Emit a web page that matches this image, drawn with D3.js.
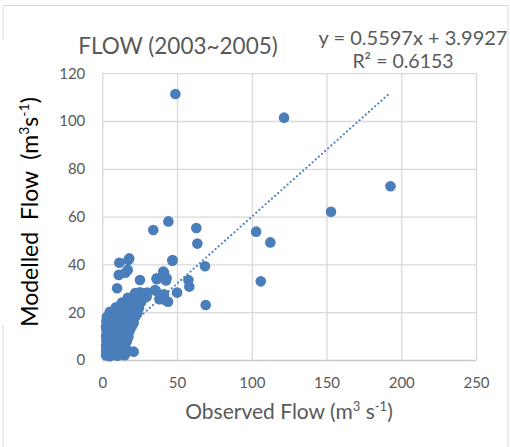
<!DOCTYPE html>
<html><head><meta charset="utf-8">
<script src="https://cdn.jsdelivr.net/npm/d3@7"></script>
<style>body{margin:0;background:#fff}svg{display:block}text{font-family:Lato,"Open Sans",sans-serif}</style>
</head><body>
<svg id="c" width="510" height="447"></svg>
<script>
const titleText = "FLOW (2003~2005)";
const xTicks = [0, 50, 100, 150, 200, 250];
const yTicks = [0, 20, 40, 60, 80, 100, 120];
const slope = 0.5597, intercept = 3.9927, r2 = "0.6153";
// [observed, modelled]
const flowPoints = [
  [2.5,2],[5,1.6],[7.5,2.3],[10,1.8],[12.5,2.4],[15,2],
  [2.6,4],[5.5,4.3],[8.5,3.8],[11.5,4.2],[14,3.6],[16.2,4.4],[21,3.5],
  [2.5,6],[4,6.3],[7,5.8],[10,6.4],[13,5.9],[15.2,6.2],
  [2.7,8.2],[5.5,7.8],[8.5,8.3],[11.5,7.7],[14.2,8.2],[16.5,7.9],
  [2.5,10],[4.2,10.3],[7,9.7],[10,10.2],[13,9.8],[15.8,10.3],[17.5,9.8],
  [2.8,12.2],[5.6,11.8],[8.6,12.4],[11.6,11.7],[14.5,12.3],[17,11.8],[18.5,12.4],
  [2.5,14],[4.3,14.3],[7.2,13.8],[10.2,14.2],[13.2,13.7],[16,14.2],[18.8,13.8],[20,14.4],
  [2.7,16.2],[5.8,15.8],[8.8,16.3],[11.8,15.7],[14.8,16.2],[17.7,15.8],[20.3,16.3],[21,15.6],
  [3,18],[4.6,18.3],[7.5,17.8],[10.5,18.2],[13.5,17.7],[16.5,18.2],[19.4,17.8],[22.3,18.3],
  [5,20.2],[7.5,20],[10.5,20.3],[13.6,19.8],[16.7,20.2],[19.8,19.7],[22.6,20.1],[23.5,19.6],
  [9,22],[12,22.3],[15,21.8],[18,22.2],[21,21.8],[23.6,22.2],[24.5,21.7],
  [13,24],[16,24.3],[19,23.8],[22,24.2],[24.6,23.8],[26,24.3],
  [17,26],[20,26.3],[23,25.8],[25.8,26.2],[28,26],
  [22,28],[25,28.3],[28,27.8],[30,28.2],
  [9.9,30],[11,35.6],[15.4,36.5],[11.4,40.7],[17.4,41.8],[18,42.5],[17,37.7],[25.2,33.5],
  [28.6,27.9],[29.7,26.5],[35.3,29.3],[36.4,34.2],[40.8,37],[43,34.2],[41.3,36.5],[38.6,26],
  [40.8,26.5],[42,25.1],[44,24.4],[36.4,33.8],[42.6,33.3],[35.9,29],[41.3,27.5],[38.2,25.4],
  [47,41.8],[46.9,41.5],[50,28.2],[57.6,33.5],[58.2,30.7],[68.7,39.2],[69.2,23],
  [34.1,54.4],[44.2,58],[62.9,55.2],[63.6,48.7],
  [48.9,111.3],[121.6,101.4],[192.8,72.7],[153,62],[102.9,53.7],[112.4,49.2],[106,32.9]
];

const svg = d3.select("#c");
const W = 510, H = 447;
const x = d3.scaleLinear().domain([0, 250]).range([102.3, 476]);
const y = d3.scaleLinear().domain([0, 120]).range([360, 73.2]);

// chart border
const bc = "#d9d9d9";
svg.append("line").attr("x1",3).attr("x2",508).attr("y1",5.5).attr("y2",5.5).attr("stroke",bc);
svg.append("line").attr("x1",508).attr("x2",508).attr("y1",5.5).attr("y2",H).attr("stroke",bc);
svg.append("line").attr("x1",3).attr("x2",3).attr("y1",5.5).attr("y2",40).attr("stroke",bc);
svg.append("line").attr("x1",3).attr("x2",3).attr("y1",325).attr("y2",H).attr("stroke",bc);

// grid
const gx = svg.append("g").attr("transform", `translate(0,${y(0)})`)
  .call(d3.axisBottom(x).tickValues(xTicks).tickSize(-(y(0)-y(120))).tickPadding(17).tickFormat(d3.format("d")));
const gy = svg.append("g").attr("transform", `translate(${x(0)},0)`)
  .call(d3.axisLeft(y).tickValues(yTicks).tickSize(-(x(250)-x(0))).tickPadding(17).tickFormat(d3.format("d")));
[gx, gy].forEach(g => {
  g.select(".domain").remove();
  g.selectAll(".tick line").attr("stroke", "#d9d9d9").attr("stroke-width", 1.3);
  g.selectAll(".tick text").attr("fill", "#595959").style("font-size", "15px");
});
gy.selectAll(".tick line").filter(d => d === 0).attr("stroke", "#c8c8c8");

// points
svg.append("g").selectAll("circle").data(flowPoints).join("circle")
  .attr("cx", d => x(d[0])).attr("cy", d => y(d[1])).attr("r", 5.3)
  .attr("fill", "#4a7ebb");

// trendline
const xmin = d3.min(flowPoints, d => d[0]), xmax = d3.max(flowPoints, d => d[0]);
svg.append("line")
  .attr("x1", x(xmin)).attr("y1", y(slope*xmin+intercept))
  .attr("x2", x(xmax)).attr("y2", y(slope*xmax+intercept))
  .attr("stroke", "#4a7ebb").attr("stroke-width", 2.2)
  .attr("stroke-linecap", "round").attr("stroke-dasharray", "0,4.2");

// title
svg.append("text").attr("x", 178).attr("y", 54).attr("text-anchor","middle")
  .attr("fill", "#595959").style("font-size", "22.5px").text(titleText);
// equation
svg.append("text").attr("x", 413).attr("y", 45).attr("text-anchor","middle")
  .attr("fill", "#595959").style("font-size", "20px")
  .text(`y = ${slope}x + ${intercept}`);
svg.append("text").attr("x", 403).attr("y", 68).attr("text-anchor","middle")
  .attr("fill", "#595959").style("font-size", "19.5px")
  .text(`R² = ${r2}`);

// x axis title
const xt = svg.append("text").attr("x", 289).attr("y", 419).attr("text-anchor","middle")
  .attr("fill", "#595959").style("font-size", "21px");
xt.append("tspan").text("Observed Flow (m");
xt.append("tspan").attr("dy", -8).style("font-size","13px").text("3");
xt.append("tspan").attr("dy", 8).text(" s");
xt.append("tspan").attr("dy", -8).style("font-size","13px").text("-1");
xt.append("tspan").attr("dy", 8).text(")");

// y axis title
const yt = svg.append("text").attr("transform", "translate(38,212) rotate(-90)")
  .attr("text-anchor","middle").attr("fill", "#000").style("font-size", "23px");
yt.append("tspan").text("Modelled\u00a0\u00a0Flow\u00a0\u00a0(m");
yt.append("tspan").attr("dy", -9).style("font-size","14px").text("3");
yt.append("tspan").attr("dy", 9).text("s");
yt.append("tspan").attr("dy", -9).style("font-size","14px").text("-1");
yt.append("tspan").attr("dy", 9).text(")");
</script>
</body></html>
